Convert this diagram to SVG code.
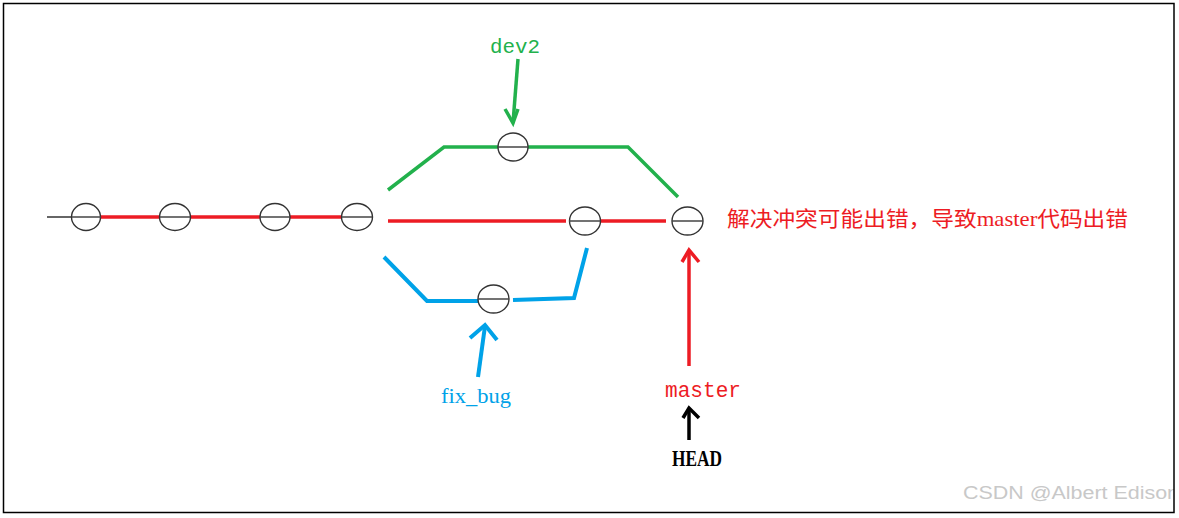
<svg xmlns="http://www.w3.org/2000/svg" width="1179" height="518" viewBox="0 0 1179 518">
<style>
.node ellipse{fill:none;stroke:#333;stroke-width:1.4}
.node line{stroke:#444;stroke-width:1.5}
.g{stroke:#22b14c;stroke-width:3.5;fill:none;stroke-linejoin:miter}
.r{stroke:#ed1c24;stroke-width:3.5;fill:none}
.b{stroke:#00a2e8;stroke-width:4;fill:none}
.k{stroke:#000;stroke-width:3.5;fill:none}
</style>
<defs><clipPath id="frame"><rect x="3.5" y="3.5" width="1170.5" height="509"/></clipPath></defs>
<rect x="0" y="0" width="1179" height="518" fill="#fff"/>
<text clip-path="url(#frame)" x="963" y="499" font-family="Liberation Sans, Arial, sans-serif" font-size="18" fill="#c8c8c8" textLength="216" lengthAdjust="spacingAndGlyphs">CSDN @Albert Edison</text>
<g id="connectors">
<line x1="47" y1="217" x2="72" y2="217" stroke="#333" stroke-width="1.5"/>
<polyline class="r" points="101,217 160,217"/>
<polyline class="r" points="190,217 260,217"/>
<polyline class="r" points="290,217 342,217"/>
<polyline class="r" points="388,221 566,221"/>
<polyline class="r" points="600,221 666,221"/>
<polyline class="g" points="388,190 444,147 498,147"/>
<polyline class="g" points="528,147 628,147 678,197"/>
<polyline class="b" points="384,257 427,301 478,301"/>
<polyline class="b" points="513,300 574,298 587,248"/>
<polyline class="g" points="518,59 513,123"/>
<polyline class="g" points="505,109 513,123 518,109"/>
<polyline class="b" points="478,377 485,326"/>
<polyline class="b" points="470,338 485,325 497,340"/>
<polyline class="r" points="689,366 689,251"/>
<polyline class="r" points="682,262 689,250 699,262"/>
<polyline class="k" points="689,440 689,409"/>
<polyline class="k" points="683,418 689,408 699,418"/>
</g>
<g id="n1" class="node"><ellipse cx="86" cy="217" rx="14.5" ry="13.5"/><line x1="72" y1="217" x2="101" y2="217"/></g>
<g id="n2" class="node"><ellipse cx="175" cy="217" rx="15.5" ry="13.5"/><line x1="160" y1="217" x2="190" y2="217"/></g>
<g id="n3" class="node"><ellipse cx="275" cy="217" rx="15" ry="13.5"/><line x1="260" y1="217" x2="290" y2="217"/></g>
<g id="n4" class="node"><ellipse cx="357" cy="217" rx="15.5" ry="13.5"/><line x1="342" y1="217" x2="372" y2="217"/></g>
<g id="n5" class="node"><ellipse cx="585" cy="221" rx="15.5" ry="14"/><line x1="569" y1="221" x2="600" y2="221"/></g>
<g id="n6" class="node"><ellipse cx="687.5" cy="221" rx="15.5" ry="14"/><line x1="672" y1="221" x2="703" y2="221"/></g>
<g id="n7" class="node"><ellipse cx="513" cy="147" rx="15" ry="14"/><line x1="498" y1="147" x2="528" y2="147"/></g>
<g id="n8" class="node"><ellipse cx="493.5" cy="299" rx="15.5" ry="14"/><line x1="478" y1="299" x2="509" y2="299"/></g>
<g id="labels">
<text x="490" y="53" font-family="Liberation Mono, monospace" font-size="20" fill="#22b14c" textLength="50" lengthAdjust="spacingAndGlyphs">dev2</text>
<text x="441" y="403" font-family="Liberation Serif, serif" font-size="21" fill="#00a2e8" textLength="70" lengthAdjust="spacingAndGlyphs">fix_bug</text>
<text x="665" y="397" font-family="Liberation Mono, monospace" font-size="22" fill="#ed1c24" textLength="76" lengthAdjust="spacingAndGlyphs">master</text>
<text x="672" y="466" font-family="Liberation Serif, serif" font-size="24" font-weight="bold" fill="#000" textLength="50" lengthAdjust="spacingAndGlyphs">HEAD</text>
<text x="727" y="226" font-family="Liberation Serif, Noto Sans CJK SC, serif" font-size="21" fill="#ed1c24" textLength="401" lengthAdjust="spacingAndGlyphs">解决冲突可能出错，导致master代码出错</text>
</g>
<rect x="3.5" y="3.5" width="1170.5" height="509" fill="none" stroke="#000" stroke-width="1.5"/>
</svg>
